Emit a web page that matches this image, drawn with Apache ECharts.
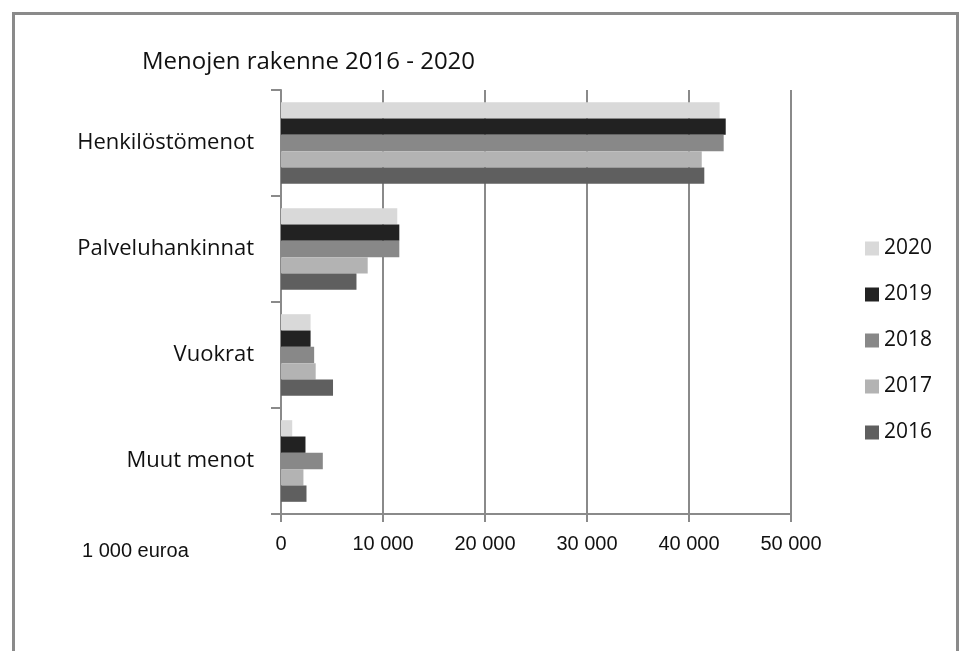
<!DOCTYPE html>
<html>
<head>
<meta charset="utf-8">
<script src="https://cdn.jsdelivr.net/npm/echarts@6/dist/echarts.min.js"></script>
<style>
  html, body { margin: 0; padding: 0; background: #fff; }
  #main { width: 960px; height: 651px; }
</style>
</head>
<body>
<div id="main"></div>
<script>
// kategoriat ylhäältä alas
var categories = ['Henkilöstömenot', 'Palveluhankinnat', 'Vuokrat', 'Muut menot'];
var years = ['2020', '2019', '2018', '2017', '2016'];
var colors = ['#d9d9d9', '#222222', '#888888', '#b3b3b3', '#5f5f5f'];

// arvot, 1 000 euroa
var v2020 = [43000, 11400, 2900, 1100];
var v2019 = [43600, 11600, 2900, 2400];
var v2018 = [43400, 11600, 3250, 4100];
var v2017 = [41250, 8500, 3400, 2200];
var v2016 = [41500, 7400, 5100, 2500];
var values = [v2020, v2019, v2018, v2017, v2016];

var xTicks = { min: 0, max: 50000, interval: 10000 };

var gray = '#8a8a8a';
var labelFont = 'Open Sans';

var myChart = echarts.init(document.getElementById('main'));

var myseries = [];
for (var i = 0; i < years.length; i++) {
    myseries.push({
        name: years[i],
        type: 'bar',
        barGap: '0%',
        barCategoryGap: '23%',
        itemStyle: { color: colors[i] },
        data: values[i]
    });
}

var option = {
    animation: false,
    backgroundColor: '#fff',
    title: [{
        text: 'Menojen rakenne 2016 - 2020',
        left: 137,
        top: 45,
        textStyle: { fontFamily: labelFont, fontSize: 24, fontWeight: 'normal', color: '#111' }
    }, {
        text: '1 000 euroa',
        left: 77,
        top: 536,
        textStyle: { fontFamily: 'Liberation Sans', fontSize: 20, fontWeight: 'normal', color: '#111' }
    }],
    legend: {
        orient: 'vertical',
        left: 860,
        top: 233,
        itemWidth: 14,
        itemHeight: 14,
        itemGap: 25,
        icon: 'rect',
        textStyle: { fontFamily: labelFont, fontSize: 21, lineHeight: 21, color: '#111' },
        data: years
    },
    grid: { left: 281, right: 169, top: 90, bottom: 137 },
    xAxis: {
        type: 'value',
        min: xTicks.min,
        max: xTicks.max,
        interval: xTicks.interval,
        axisLine: { show: true, lineStyle: { color: gray, width: 2 } },
        axisTick: { show: true, length: 8, lineStyle: { color: gray, width: 2 } },
        splitLine: { show: true, lineStyle: { color: gray, width: 2 } },
        axisLabel: {
            margin: 20,
            fontFamily: 'Liberation Sans',
            fontSize: 20,
            color: '#111',
            formatter: function (v) {
                return String(v).replace(/\B(?=(\d{3})+(?!\d))/g, ' ');
            }
        }
    },
    yAxis: {
        type: 'category',
        inverse: true,
        data: categories,
        axisLine: { show: true, lineStyle: { color: gray, width: 2 } },
        axisTick: { show: true, length: 10, lineStyle: { color: gray, width: 2 } },
        axisLabel: { margin: 27, fontFamily: labelFont, fontSize: 22, color: '#111' }
    },
    graphic: [{
        type: 'rect',
        shape: { x: 13.5, y: 13.5, width: 944, height: 700 },
        style: { fill: 'none', stroke: gray, lineWidth: 3 },
        silent: true
    }],
    series: myseries
};

myChart.setOption(option);
</script>
</body>
</html>
